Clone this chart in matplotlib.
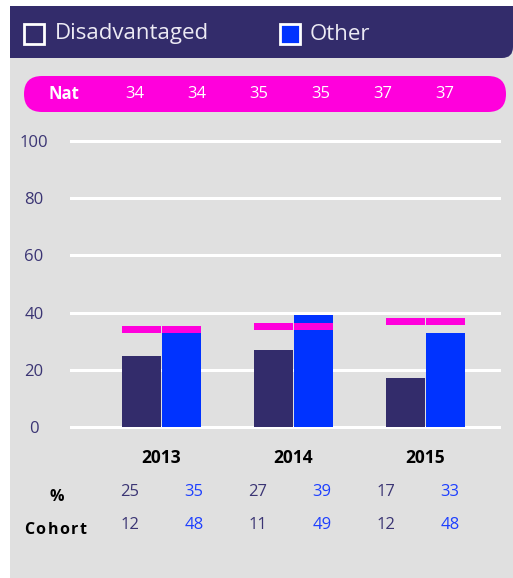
import matplotlib
matplotlib.use("Agg")
import matplotlib.pyplot as plt
from matplotlib.patches import FancyBboxPatch, Rectangle
import numpy as np

years = ["2013", "2014", "2015"]
disadvantaged = [25, 27, 17]
other = [35, 39, 33]
national = [34, 35, 37]
cohort_dis = [12, 11, 12]
cohort_oth = [48, 49, 48]
yticks = [0, 20, 40, 60, 80, 100]

DARK = "#332C6B"
BLUE = "#0033FF"
PINK = "#FF00DC"
GREY = "#E0E0E0"
TXT_DARK = "#3B3574"
TXT_BLUE = "#1E40FF"

plt.rcParams['font.family'] = ['Open Sans', 'DejaVu Sans']

W, H = 513, 578
fig = plt.figure(figsize=(W / 100, H / 100), dpi=100)
fig.patch.set_facecolor("white")

bg = fig.add_axes([0, 0, 1, 1])
bg.set_xlim(0, W)
bg.set_ylim(H, 0)
bg.axis("off")
bg.add_patch(Rectangle((10, 50), W - 10, H - 50, facecolor=GREY, edgecolor="none"))
bg.add_patch(FancyBboxPatch((10, 6), W - 10, 52, boxstyle="round,pad=0,rounding_size=11",
                            facecolor=DARK, edgecolor="none"))
bg.add_patch(Rectangle((10, 6), 40, 52, facecolor=DARK, edgecolor="none"))
bg.add_patch(Rectangle((10, 6), W - 10, 25, facecolor=DARK, edgecolor="none"))

# legend
bg.add_patch(Rectangle((23.5, 23.5), 20, 20, facecolor="none", edgecolor="white", linewidth=2))
bg.text(55, 34, "Disadvantaged", color="#ECEAF4", fontsize=16, va="center", ha="left")
bg.add_patch(Rectangle((279.5, 23.5), 20, 20, facecolor=BLUE, edgecolor="white", linewidth=2))
bg.text(310, 34, "Other", color="#ECEAF4", fontsize=16, va="center", ha="left")

# pink national pill
bg.add_patch(FancyBboxPatch((24, 76), 482, 36, boxstyle="round,pad=0,rounding_size=18",
                            facecolor=PINK, edgecolor="none"))
bg.text(64, 94, "Nat", color="white", fontsize=12, fontweight="bold", va="center", ha="center")
nat_x = [135, 197, 259, 321, 383, 445]
nat_vals = [v for v in national for _ in range(2)]
for x, v in zip(nat_x, nat_vals):
    bg.text(x, 94, str(v), color="white", fontsize=12, va="center", ha="center")

# table below
bg.text(57, 497, "%", color="black", fontsize=11.5, fontweight="bold", va="center", ha="center")

# letter-spaced "Cohort"
fig.canvas.draw()
renderer = fig.canvas.get_renderer()
label = "Cohort"
spacing = 1.6
widths = []
for ch in label:
    t = bg.text(0, 0, ch, fontsize=11.5, fontweight="bold")
    bb = t.get_window_extent(renderer=renderer)
    widths.append(bb.width)
    t.remove()
total = sum(widths) + spacing * (len(label) - 1)
cx = 55.5 - total / 2
for ch, w in zip(label, widths):
    bg.text(cx, 530, ch, color="black", fontsize=11.5, fontweight="bold", va="center", ha="left")
    cx += w + spacing

col_x = [130, 194, 258, 322, 386, 450]
for i in range(3):
    bg.text(col_x[2 * i], 492, str(disadvantaged[i]), color=TXT_DARK, fontsize=12, va="center", ha="center")
    bg.text(col_x[2 * i + 1], 492, str(other[i]), color=TXT_BLUE, fontsize=12, va="center", ha="center")
    bg.text(col_x[2 * i], 525, str(cohort_dis[i]), color=TXT_DARK, fontsize=12, va="center", ha="center")
    bg.text(col_x[2 * i + 1], 525, str(cohort_oth[i]), color=TXT_BLUE, fontsize=12, va="center", ha="center")

# chart axes
ppu = (427 - 141) / 100.0
y_lo, y_hi = -2, 102
ax_bottom_px = 427 + (0 - y_lo) * ppu
ax_top_px = 141 - (y_hi - 100) * ppu
x0_px, x1_px = 70, 501
ax = fig.add_axes([x0_px / W, (H - ax_bottom_px) / H, (x1_px - x0_px) / W, (ax_bottom_px - ax_top_px) / H])
ax.set_facecolor("none")
ax.set_ylim(y_lo, y_hi)
ax.set_xlim((70 - 161.5) / 132, (501 - 161.5) / 132)
for s in ax.spines.values():
    s.set_visible(False)
ax.set_yticks(yticks)
ax.yaxis.grid(True, color="white", linewidth=2.2)
ax.set_axisbelow(True)
ax.tick_params(axis="y", length=0, labelsize=12, labelcolor=TXT_DARK)
for lbl in ax.get_yticklabels():
    lbl.set_horizontalalignment("center")
ax.tick_params(axis="y", pad=(70 - 34) * 72 / 100)
ax.set_xticks(range(3))
ax.set_xticklabels(years, fontweight="bold", fontsize=12.5, color="black")
ax.tick_params(axis="x", length=0, pad=12)

x = np.arange(3)
bw = 0.295
off = 0.1515
ax.bar(x - off, disadvantaged, width=bw, color=DARK, zorder=2)
ax.bar(x + off, other, width=bw, color=BLUE, zorder=2)
for i in range(3):
    for o in (-off, off):
        ax.bar(x[i] + o, 2.5, bottom=national[i] - 1.25, width=bw, color=PINK, zorder=3)

fig.savefig("out.png", dpi=100, facecolor=fig.get_facecolor())
